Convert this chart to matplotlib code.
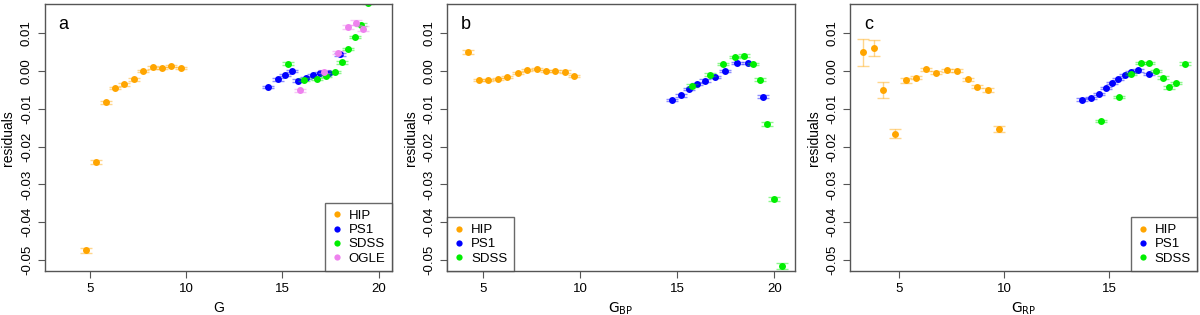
import matplotlib.pyplot as plt
from matplotlib.lines import Line2D
from matplotlib.colors import to_rgba

plt.rcParams['font.family'] = ['Liberation Sans', 'DejaVu Sans']

# ---- panel a: residuals vs G ----
a_hip_x = [4.81, 5.33, 5.83, 6.33, 6.79, 7.29, 7.79, 8.27, 8.73, 9.20, 9.72]
a_hip_y = [-0.0474, -0.0240, -0.0083, -0.0046, -0.0036, -0.0023, 0.0000, 0.0009, 0.0007, 0.0012, 0.0007]
a_hip_e = [0.0007, 0.0005, 0.0004, 0.0003, 0.0003, 0.0003, 0.0003, 0.0003, 0.0003, 0.0003, 0.0003]

a_ps1_x = [14.28, 14.76, 15.14, 15.50, 15.84, 16.22, 16.58, 16.96, 17.43, 18.00]
a_ps1_y = [-0.0043, -0.0023, -0.0011, -0.0001, -0.0026, -0.0019, -0.0011, -0.0005, -0.0006, 0.0044]
a_ps1_e = [0.0003, 0.0003, 0.0003, 0.0003, 0.0003, 0.0003, 0.0003, 0.0003, 0.0003, 0.0004]

a_sdss_x = [15.27, 16.13, 16.79, 17.29, 17.72, 18.11, 18.42, 18.75, 19.08, 19.44]
a_sdss_y = [0.0018, -0.0024, -0.0022, -0.0014, -0.0004, 0.0022, 0.0057, 0.0089, 0.0121, 0.0180]
a_sdss_e = [0.0004, 0.0004, 0.0003, 0.0003, 0.0003, 0.0003, 0.0003, 0.0003, 0.0004, 0.0005]

a_ogle_x = [15.93, 17.18, 17.90, 18.40, 18.82, 19.18]
a_ogle_y = [-0.0052, -0.0003, 0.0047, 0.0115, 0.0127, 0.0111]
a_ogle_e = [0.0004, 0.0004, 0.0004, 0.0005, 0.0006, 0.0007]

# ---- panel b: residuals vs G_BP ----
b_hip_x = [4.26, 4.79, 5.29, 5.77, 6.25, 6.80, 7.28, 7.78, 8.25, 8.73, 9.22, 9.68]
b_hip_y = [0.0049, -0.0025, -0.0025, -0.0022, -0.0016, -0.0006, 0.0003, 0.0004, 0.0000, 0.0000, -0.0002, -0.0013]
b_hip_e = [0.0005, 0.0003, 0.0003, 0.0003, 0.0003, 0.0003, 0.0003, 0.0003, 0.0003, 0.0003, 0.0003, 0.0003]

b_ps1_x = [14.72, 15.20, 15.62, 16.03, 16.45, 16.93, 17.44, 18.06, 18.66, 19.41]
b_ps1_y = [-0.0078, -0.0065, -0.0049, -0.0035, -0.0026, -0.0016, -0.0001, 0.0021, 0.0021, -0.0068]
b_ps1_e = [0.0003, 0.0003, 0.0003, 0.0003, 0.0003, 0.0003, 0.0003, 0.0003, 0.0003, 0.0004]

b_sdss_x = [15.74, 16.70, 17.34, 17.96, 18.45, 18.88, 19.24, 19.62, 19.98, 20.39]
b_sdss_y = [-0.0039, -0.0010, 0.0018, 0.0036, 0.0040, 0.0018, -0.0024, -0.0141, -0.0338, -0.0515]
b_sdss_e = [0.0003, 0.0003, 0.0003, 0.0003, 0.0003, 0.0003, 0.0004, 0.0005, 0.0006, 0.0009]

# ---- panel c: residuals vs G_RP ----
c_hip_x = [3.30, 3.81, 4.25, 4.80, 5.35, 5.81, 6.29, 6.78, 7.27, 7.77, 8.26, 8.71, 9.23, 9.75]
c_hip_y = [0.0049, 0.0061, -0.0050, -0.0166, -0.0025, -0.0018, 0.0004, -0.0005, 0.0001, 0.0000, -0.0022, -0.0042, -0.0051, -0.0154]
c_hip_e = [0.0036, 0.0021, 0.0021, 0.0012, 0.0006, 0.0004, 0.0004, 0.0004, 0.0004, 0.0004, 0.0004, 0.0004, 0.0005, 0.0007]

c_ps1_x = [13.69, 14.15, 14.51, 14.85, 15.12, 15.44, 15.74, 16.04, 16.39, 16.88]
c_ps1_y = [-0.0076, -0.0071, -0.0061, -0.0046, -0.0032, -0.0021, -0.0012, -0.0003, 0.0001, -0.0009]
c_ps1_e = [0.0003, 0.0003, 0.0003, 0.0003, 0.0003, 0.0003, 0.0003, 0.0003, 0.0003, 0.0003]

c_sdss_x = [14.63, 15.46, 16.05, 16.51, 16.89, 17.24, 17.58, 17.86, 18.18, 18.61]
c_sdss_y = [-0.0132, -0.0070, -0.0009, 0.0021, 0.0021, 0.0000, -0.0018, -0.0044, -0.0032, 0.0018]
c_sdss_e = [0.0003, 0.0003, 0.0003, 0.0003, 0.0003, 0.0003, 0.0003, 0.0003, 0.0003, 0.0004]

y_ticks = [0.01, 0.00, -0.01, -0.02, -0.03, -0.04, -0.05]
x_ticks = [5, 10, 15, 20]

colors = {'HIP': '#FFA500', 'PS1': '#0000FF', 'SDSS': '#00EE00', 'OGLE': '#EE82EE'}

panels = [
    ('a', 'G', (2.67, 20.69), 'lower right',
     [('HIP', a_hip_x, a_hip_y, a_hip_e), ('PS1', a_ps1_x, a_ps1_y, a_ps1_e),
      ('SDSS', a_sdss_x, a_sdss_y, a_sdss_e), ('OGLE', a_ogle_x, a_ogle_y, a_ogle_e)]),
    ('b', r'$\mathrm{G_{BP}}$', (3.18, 21.03), 'lower left',
     [('HIP', b_hip_x, b_hip_y, b_hip_e), ('PS1', b_ps1_x, b_ps1_y, b_ps1_e),
      ('SDSS', b_sdss_x, b_sdss_y, b_sdss_e)]),
    ('c', r'$\mathrm{G_{RP}}$', (2.68, 19.21), 'lower right',
     [('HIP', c_hip_x, c_hip_y, c_hip_e), ('PS1', c_ps1_x, c_ps1_y, c_ps1_e),
      ('SDSS', c_sdss_x, c_sdss_y, c_sdss_e)]),
]

fig = plt.figure(figsize=(12, 3.15), dpi=100)
lefts = [0.0373, 0.3728, 0.7086]
width = 0.2893

for left, (letter, xlab, xlim, loc, series) in zip(lefts, panels):
    ax = fig.add_axes([left, 0.139, width, 0.848])
    handles = []
    for name, x, y, e in series:
        c = colors[name]
        ax.errorbar(x, y, yerr=e, fmt='none', ecolor=to_rgba(c, 0.45),
                    elinewidth=1, capsize=4, capthick=1)
        ax.plot(x, y, 'o', color=c, markersize=5, markeredgewidth=0)
        handles.append(Line2D([], [], marker='o', linestyle='none', color=c,
                              markersize=4.5, markeredgewidth=0, label=name))
    # ticks first, then limits (set_xticks would widen the view otherwise)
    ax.set_xticks([t for t in x_ticks if xlim[0] <= t <= xlim[1]])
    ax.set_yticks(y_ticks)
    ax.set_yticklabels([f'{v:.2f}' for v in y_ticks], rotation=90, va='center')
    ax.set_xlim(xlim)
    ax.set_ylim(-0.0529, 0.0176)
    ax.tick_params(labelsize=9.5, length=5, width=0.8, color='#555555')
    for s in ax.spines.values():
        s.set_color('#555555')
        s.set_linewidth(1)
    ax.set_xlabel(xlab, fontsize=10)
    ax.set_ylabel('residuals', fontsize=10)
    ax.text(0.04, 0.955, letter, transform=ax.transAxes, fontsize=13, va='top', ha='left')
    leg = ax.legend(handles=handles, loc=loc, fontsize=9.5, frameon=True, fancybox=False,
                    borderaxespad=0, handletextpad=0.5, handlelength=0.8,
                    labelspacing=0.15, borderpad=0.5)
    leg.get_frame().set_edgecolor('#444444')
    leg.get_frame().set_linewidth(1)

plt.savefig('out.png', dpi=100)
